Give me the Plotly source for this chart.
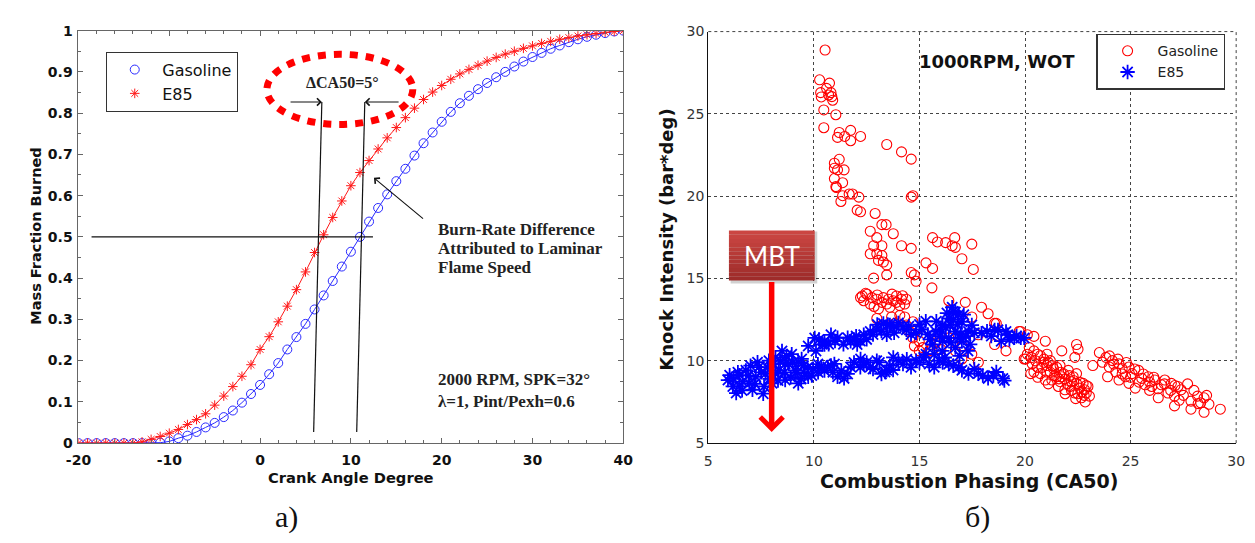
import plotly.graph_objects as go

# ---------------- panel a): mass fraction burned ----------------
crank_deg = list(range(-20, 41))
mfb_gasoline = [0, 0, 0, 0, 0, 0, 0, 0, 0,
                0.001, 0.004, 0.012, 0.018, 0.027, 0.038, 0.049, 0.063, 0.079, 0.098, 0.119,
                0.141, 0.167, 0.194, 0.227, 0.257, 0.289, 0.324, 0.358, 0.393, 0.428,
                0.464, 0.500, 0.537, 0.570, 0.603, 0.635, 0.665, 0.697, 0.727, 0.753,
                0.779, 0.803, 0.824, 0.842, 0.858, 0.873, 0.887, 0.900, 0.913, 0.925,
                0.936, 0.946, 0.956, 0.964, 0.972, 0.979, 0.985, 0.990, 0.994, 0.998, 1.000]
mfb_e85 = [0, 0, 0, 0, 0, 0, 0,
           0.003, 0.009, 0.016, 0.024, 0.033, 0.045, 0.057, 0.071, 0.092, 0.114, 0.137, 0.162, 0.190,
           0.227, 0.258, 0.294, 0.332, 0.372, 0.415, 0.462, 0.505, 0.547, 0.587,
           0.624, 0.656, 0.685, 0.713, 0.740, 0.765, 0.789, 0.812, 0.833, 0.851,
           0.867, 0.882, 0.895, 0.906, 0.916, 0.926, 0.935, 0.943, 0.950, 0.957,
           0.963, 0.969, 0.974, 0.979, 0.983, 0.987, 0.990, 0.993, 0.996, 0.998, 1.000]
ca50_gasoline = 11.0
ca50_e85 = 6.8
crank_ticks = [-20, -10, 0, 10, 20, 30, 40]
mfb_ticks = [0, 0.1, 0.2, 0.3, 0.4, 0.5, 0.6, 0.7, 0.8, 0.9, 1]
mfb_tick_labels = ["0", "0.1", "0.2", "0.3", "0.4", "0.5", "0.6", "0.7", "0.8", "0.9", "1"]

# ---------------- panel б): knock intensity vs CA50 ----------------
gasoline_points = [
    (10.53, 28.88), (10.27, 27.07), (10.74, 26.87), (10.32, 26.29), (10.81, 26.29), (10.35, 26.03),
    (10.89, 25.83), (10.47, 25.24), (11.04, 24.95), (10.47, 24.16), (10.60, 26.55), (10.85, 26.05),
    (10.70, 26.15),
    (11.12, 23.57), (11.20, 23.87), (11.74, 24.00), (11.46, 23.63), (11.74, 23.37), (12.21, 23.63),
    (13.45, 23.14), (14.15, 22.69), (14.61, 22.25),
    (10.97, 22.00), (11.20, 22.24), (10.97, 21.70), (11.43, 21.60), (11.12, 21.60), (10.97, 21.07),
    (11.36, 20.82), (11.07, 20.53), (11.04, 20.58), (11.36, 20.03), (11.67, 20.13), (12.13, 19.94),
    (11.28, 19.68), (12.05, 19.15), (12.21, 19.05), (11.83, 20.13), (14.69, 20.03), (14.61, 19.94),
    (12.90, 18.95), (13.22, 18.27), (13.42, 18.27), (12.67, 17.87), (13.76, 17.72), (12.98, 17.48),
    (12.83, 16.99), (13.22, 16.99), (14.15, 16.99), (14.61, 16.83), (12.67, 16.50), (12.98, 16.50),
    (13.22, 16.40), (13.06, 16.10), (13.29, 16.00), (13.45, 15.81), (12.83, 15.02), (13.45, 15.22),
    (14.61, 15.36), (14.76, 15.22), (14.84, 14.83), (15.31, 15.95), (15.62, 15.61), (15.59, 14.43),
    (15.62, 17.48), (15.85, 17.22), (16.24, 17.18), (16.67, 17.48), (16.55, 16.99), (16.70, 16.89),
    (17.01, 16.20), (17.48, 17.09), (17.55, 15.55),
    (12.29, 13.94), (12.52, 14.04), (12.75, 13.84), (12.98, 13.74), (13.22, 13.55), (12.36, 13.65),
    (12.67, 13.45), (13.29, 13.84), (13.53, 13.74), (13.76, 13.65), (13.91, 13.94), (14.15, 13.74),
    (14.30, 13.45), (14.07, 13.35), (13.60, 13.25), (13.06, 13.16), (14.38, 13.74), (12.21, 13.84),
    (13.45, 13.45), (13.91, 13.55), (12.45, 14.10), (13.00, 14.00), (13.70, 14.05), (12.85, 13.30),
    (14.20, 13.95),
    (12.98, 12.57), (13.22, 12.17), (13.68, 12.66), (14.07, 12.76), (14.30, 12.66), (13.84, 12.27),
    (14.38, 12.17), (14.69, 12.37), (14.84, 11.88), (14.53, 11.78),
    (14.69, 11.39), (14.99, 11.19), (14.76, 10.90), (15.15, 10.80), (15.54, 10.99), (15.46, 10.60),
    (14.99, 10.60), (15.77, 11.09), (16.01, 10.70),
    (16.39, 13.65), (17.17, 13.55), (17.94, 13.25), (18.25, 12.86), (18.56, 12.27), (17.48, 12.66),
    (17.79, 11.58), (18.56, 10.99), (19.10, 10.60), (16.70, 10.60), (17.01, 10.11), (17.79, 9.91),
    (17.48, 10.40), (16.39, 11.39), (17.01, 10.90), (18.64, 12.27), (19.80, 11.78), (20.11, 11.58),
    (19.96, 10.11), (20.27, 9.22), (19.72, 11.78), (20.42, 11.48), (20.96, 11.19), (21.74, 10.60),
    (22.44, 10.99), (22.51, 10.70), (22.36, 10.21), (23.21, 9.71), (20.03, 10.11),
    (20.11, 10.40), (20.42, 10.60), (20.73, 10.31), (21.04, 10.40), (20.34, 9.81), (20.58, 9.62),
    (20.89, 9.91), (21.20, 10.01), (21.35, 9.52), (21.66, 9.71), (20.73, 9.22), (21.04, 9.32),
    (21.50, 9.03), (21.82, 9.22), (22.05, 9.42), (22.28, 9.03), (22.44, 8.63), (22.13, 8.44),
    (22.59, 8.34), (22.75, 8.63), (22.90, 8.04), (22.67, 7.75), (22.98, 8.44), (21.66, 8.73),
    (21.27, 8.83), (21.89, 8.24), (22.36, 8.04), (20.42, 9.32), (20.96, 8.83), (21.58, 8.44),
    (22.20, 8.73), (22.82, 8.24), (23.05, 7.85), (21.04, 9.71), (21.74, 9.03), (22.44, 9.22),
    (20.20, 10.80), (20.30, 10.20), (20.50, 10.00), (20.60, 10.40), (20.80, 9.60), (20.90, 10.10),
    (21.10, 9.90), (21.20, 9.30), (21.30, 9.70), (21.40, 9.10), (21.50, 9.60), (21.60, 8.90),
    (21.70, 9.30), (21.90, 8.90), (22.00, 8.60), (22.10, 9.10), (22.20, 8.20), (22.30, 8.80),
    (22.50, 8.00), (22.60, 8.70), (22.70, 8.10), (22.80, 7.90), (22.90, 8.50), (21.10, 8.60),
    (20.60, 9.00), (21.90, 8.00), (22.40, 7.70), (22.85, 7.50),
    (23.52, 10.50), (23.83, 10.21), (24.14, 10.01), (24.45, 9.81), (23.67, 9.91), (23.99, 9.62),
    (24.30, 9.32), (24.60, 9.52), (24.92, 9.62), (25.07, 9.22), (24.76, 9.03), (25.38, 9.42),
    (25.53, 8.93), (25.84, 9.03), (26.15, 8.83), (25.22, 8.34), (25.69, 8.54), (26.00, 8.44),
    (26.46, 8.54), (26.62, 8.83), (26.93, 8.63), (27.24, 8.44), (27.39, 8.24), (26.77, 8.04),
    (27.08, 7.85), (26.31, 7.75), (27.08, 7.26), (27.86, 7.55), (28.17, 7.85), (28.48, 7.75),
    (28.32, 7.45), (28.71, 7.36), (27.86, 7.06), (28.48, 6.87), (29.25, 7.06), (24.45, 8.83),
    (24.92, 8.63), (23.91, 9.03),
    (24.00, 10.30), (24.20, 9.80), (24.40, 10.10), (24.60, 9.20), (24.80, 9.90), (25.00, 9.00),
    (25.20, 9.50), (25.40, 8.70), (25.60, 9.20), (25.90, 8.70), (26.10, 9.00), (26.30, 8.30),
    (26.60, 8.60), (26.90, 8.20), (27.10, 8.50), (27.50, 7.90), (27.70, 8.60), (28.00, 8.20),
    (28.20, 7.40), (28.60, 7.90), (27.30, 7.60), (25.90, 8.20),
]
e85_points = [
    (5.93, 8.83), (6.16, 8.44), (6.32, 8.04), (6.47, 9.13), (6.78, 9.42), (6.94, 8.63), (7.25, 9.03),
    (7.40, 9.62), (7.64, 8.44), (7.87, 10.01), (8.18, 9.22), (8.49, 10.60), (8.64, 8.83), (8.80, 9.81),
    (9.11, 9.42), (9.26, 8.63), (9.42, 10.11), (9.73, 9.03), (9.96, 9.52), (9.73, 10.90), (10.04, 11.39),
    (10.35, 9.62), (10.50, 10.99), (10.81, 11.58), (10.97, 9.81), (6.01, 9.13), (6.63, 8.73),
    (7.09, 8.24), (8.02, 8.63), (8.33, 9.42), (8.95, 10.40), (7.71, 9.22), (7.33, 9.91), (6.47, 8.44),
    (8.64, 9.81), (9.26, 9.91), (9.57, 9.23), (8.18, 10.21),
    (6.20, 8.90), (6.40, 9.30), (6.60, 8.20), (6.90, 9.10), (7.00, 9.70), (7.20, 8.60), (7.50, 9.30),
    (7.60, 8.00), (7.80, 9.60), (7.90, 8.90), (8.10, 9.80), (8.30, 8.80), (8.40, 10.00), (8.60, 9.30),
    (8.70, 10.30), (8.90, 9.00), (9.00, 9.90), (9.20, 9.30), (9.40, 8.90), (9.50, 9.70), (9.70, 9.60),
    (9.90, 9.10), (10.10, 10.60), (10.20, 9.30), (10.40, 11.00),
    (10.24, 11.30), (11.12, 11.40), (10.81, 9.72), (11.43, 8.93), (12.36, 9.80), (12.67, 9.62),
    (13.37, 9.32), (13.75, 9.44), (11.90, 11.29), (12.67, 11.78), (12.98, 11.88), (13.60, 12.17),
    (14.22, 12.07),
    (10.19, 9.80), (10.66, 9.62), (11.12, 9.03), (11.74, 9.62), (12.21, 10.11), (12.98, 10.01),
    (13.45, 9.42), (13.76, 10.21), (14.22, 9.80), (14.84, 10.01), (15.46, 9.80), (15.93, 10.01),
    (16.39, 9.80), (16.86, 9.62), (17.32, 9.22), (17.79, 9.22), (18.25, 8.93), (18.95, 8.93),
    (17.01, 9.42),
    (10.50, 9.40), (10.90, 9.30), (11.30, 9.40), (11.60, 9.20), (11.90, 9.90), (12.20, 9.60),
    (12.50, 9.90), (12.80, 9.50), (13.10, 9.90), (13.20, 9.20), (13.60, 9.70), (14.00, 10.00),
    (14.40, 10.10), (14.60, 9.60), (15.00, 9.90), (15.20, 10.20), (15.70, 9.60), (16.10, 9.90),
    (16.60, 9.70), (17.60, 9.50), (18.00, 9.10), (18.50, 9.10),
    (10.50, 11.19), (11.74, 11.19), (12.36, 11.58), (13.29, 12.27), (13.91, 12.07), (14.38, 11.88),
    (14.84, 11.68), (12.05, 10.99), (13.45, 11.58), (15.00, 12.20), (15.30, 12.40),
    (10.70, 11.00), (11.00, 11.20), (11.40, 11.00), (11.60, 11.40), (12.00, 11.50), (12.20, 11.20),
    (12.50, 11.30), (12.80, 11.60), (13.00, 12.20), (13.20, 11.80), (13.50, 12.20), (13.80, 11.70),
    (14.00, 12.30), (14.50, 12.10), (14.60, 11.60), (15.10, 11.90),
    (16.55, 13.25), (16.70, 12.96), (16.39, 12.57), (16.08, 12.17), (17.01, 12.37), (15.77, 11.78),
    (16.70, 11.78), (17.32, 11.78), (16.39, 11.39), (17.01, 11.19), (15.62, 10.99), (16.08, 10.60),
    (15.31, 10.40), (16.70, 10.80), (17.48, 12.17), (16.60, 12.50), (16.85, 12.80), (15.95, 11.50),
    (16.25, 12.00), (16.95, 11.60),
    (15.50, 11.30), (15.80, 12.40), (16.10, 11.20), (16.30, 12.90), (16.45, 12.20), (16.50, 11.10),
    (16.60, 13.00), (16.80, 12.20), (16.90, 11.40), (17.10, 12.80), (17.20, 11.50), (17.40, 11.00),
    (15.70, 10.40), (16.20, 10.20), (16.90, 10.30), (17.30, 10.60), (15.40, 11.60), (16.00, 11.90),
    (17.60, 11.70),
    (17.94, 11.68), (18.56, 11.88), (19.18, 11.58), (19.80, 11.39), (18.72, 11.88), (19.10, 11.78),
    (19.49, 11.39), (19.96, 11.39), (18.87, 11.19), (19.26, 11.29), (19.02, 8.80), (18.64, 9.32),
    (18.20, 11.80), (18.40, 11.50), (19.60, 11.50),
]
mbt_ca50 = 8.0

gas_x, gas_y = zip(*gasoline_points)
e85_x, e85_y = zip(*e85_points)

SANS = "DejaVu Sans"
SERIF = "Liberation Serif"
BLUE = "#2b2bff"
RED = "#ff1a1a"

fig = go.Figure()

# --- panel a) traces ---
fig.add_trace(go.Scatter(
    x=crank_deg, y=mfb_gasoline, mode="lines+markers", showlegend=False,
    line=dict(color=BLUE, width=1),
    marker=dict(symbol="circle-open", size=9, color=BLUE, line=dict(width=1)),
    xaxis="x", yaxis="y"))
fig.add_trace(go.Scatter(
    x=crank_deg, y=mfb_e85, mode="lines+markers", showlegend=False,
    line=dict(color=RED, width=1),
    marker=dict(symbol="asterisk-open", size=8, color=RED, line=dict(width=1, color=RED)),
    xaxis="x", yaxis="y"))
# legend entries showing the marker only
fig.add_trace(go.Scatter(
    x=[None], y=[None], mode="markers", name="Gasoline", legend="legend",
    marker=dict(symbol="circle-open", size=9, color=BLUE, line=dict(width=1)),
    xaxis="x", yaxis="y"))
fig.add_trace(go.Scatter(
    x=[None], y=[None], mode="markers", name="E85", legend="legend",
    marker=dict(symbol="asterisk-open", size=8, color=RED, line=dict(width=1, color=RED)),
    xaxis="x", yaxis="y"))

# --- panel б) traces ---
fig.add_trace(go.Scatter(
    x=gas_x, y=gas_y, mode="markers", name="Gasoline", legend="legend2",
    marker=dict(symbol="circle-open", size=10, color="#ff0000", line=dict(width=1.1)),
    xaxis="x2", yaxis="y2"))
fig.add_trace(go.Scatter(
    x=e85_x, y=e85_y, mode="markers", name="E85", legend="legend2",
    marker=dict(symbol="asterisk-open", size=12, color="#0000ff",
                line=dict(width=1.8, color="#0000ff")),
    xaxis="x2", yaxis="y2"))

W, H = 1255, 543

shapes = []
annotations = []


def note(**kw):
    kw.setdefault("xanchor", "center")
    kw.setdefault("yanchor", "middle")
    kw.setdefault("showarrow", False)
    annotations.append(kw)


# guide lines in panel a)
line_style = dict(color="#111", width=1.2)
shapes.append(dict(type="line", xref="x", yref="y", x0=-18.56, x1=12.43, y0=0.5, y1=0.5,
                   line=line_style))
shapes.append(dict(type="line", xref="x", yref="y", x0=ca50_e85, x1=ca50_e85 - 0.9,
                   y0=0.827, y1=0.027, line=line_style))
shapes.append(dict(type="line", xref="x", yref="y", x0=ca50_gasoline + 0.53,
                   x1=ca50_gasoline - 0.36, y0=0.827, y1=0.027, line=line_style))
# dotted red ellipse around the CA50 difference
shapes.append(dict(type="circle", xref="x", yref="y", x0=0.75, x1=16.82, y0=0.7725, y1=0.9426,
                   line=dict(color="#ff0000", width=7, dash="8px,8px")))

# arrows pointing at the CA50 guide lines
arrow_style = dict(text="", showarrow=True, arrowhead=4, arrowsize=1.3, arrowwidth=1.1,
                   arrowcolor="#111", xref="x", yref="y", axref="x", ayref="y")
annotations.append(dict(x=ca50_e85, y=0.827, ax=3.19, ay=0.827, **arrow_style))
annotations.append(dict(x=ca50_gasoline + 0.53, y=0.827, ax=15.42, ay=0.827, **arrow_style))
annotations.append(dict(x=12.54, y=0.643, ax=18.11, ay=0.541, **arrow_style))
note(xref="x", yref="y", x=9.13, y=0.874, text="ΔCA50=5°",
     font=dict(family=SERIF, size=16, color="#222", weight="bold"))

serif_note = dict(family=SERIF, size=17, color="#222", weight="bold")
for txt, yv in [("Burn-Rate Difference", 0.519), ("Attributed to Laminar", 0.472),
                ("Flame Speed", 0.425), ("2000 RPM, SPK=32°", 0.153),
                ("λ=1, Pint/Pexh=0.6", 0.102)]:
    note(xref="x", yref="y", x=19.37, y=yv, text=txt, xanchor="left", font=serif_note)

# axis titles panel a)
note(xref="paper", yref="paper", x=344 / W, y=1 - 484 / H, text="Crank Angle Degree",
     font=dict(family=SANS, size=14.7, color="#111", weight="bold"))
note(xref="paper", yref="paper", x=23 / W, y=1 - 235 / H, text="Mass Fraction Burned",
     textangle=-90, font=dict(family=SANS, size=14.5, color="#111", weight="bold"))

# panel б) titles
note(xref="paper", yref="paper", x=974 / W, y=1 - 487 / H, text="Combustion Phasing (CA50)",
     font=dict(family=SANS, size=19, color="#111", weight="bold"))
note(xref="paper", yref="paper", x=666 / W, y=1 - 239 / H, text="Knock Intensity (bar*deg)",
     textangle=-90, font=dict(family=SANS, size=18, color="#111", weight="bold"))
note(xref="paper", yref="paper", x=1002 / W, y=1 - 55 / H, text="1000RPM, WOT",
     font=dict(family=SANS, size=18, color="#111", weight="bold"))

# dotted frame edges of panel б)
edge = dict(color="#444", width=1, dash="dot")
shapes.append(dict(type="line", xref="x2 domain", yref="y2 domain", x0=0, x1=1, y0=1, y1=1,
                   line=edge))
shapes.append(dict(type="line", xref="x2 domain", yref="y2 domain", x0=1, x1=1, y0=0, y1=1,
                   line=edge))

# MBT marker box with a vertical gradient and a soft shadow
box_x0, box_x1, box_y0, box_y1 = 5.976, 10.04, 14.88, 17.91
shapes.append(dict(type="rect", xref="x2", yref="y2", x0=box_x0 + 0.08, x1=box_x1 + 0.12,
                   y0=box_y0 - 0.18, y1=box_y1 - 0.05, line=dict(width=0),
                   fillcolor="rgba(0,0,0,0.18)"))
n_bands = 12
top_rgb, bot_rgb = (203, 70, 66), (158, 44, 42)
for i in range(n_bands):
    t = i / (n_bands - 1)
    rgb = tuple(round(top_rgb[k] + (bot_rgb[k] - top_rgb[k]) * t) for k in range(3))
    ya = box_y1 - (box_y1 - box_y0) * i / n_bands
    yb = box_y1 - (box_y1 - box_y0) * (i + 1) / n_bands
    shapes.append(dict(type="rect", xref="x2", yref="y2", x0=box_x0, x1=box_x1,
                       y0=yb, y1=ya, line=dict(width=0),
                       fillcolor="rgb(%d,%d,%d)" % rgb))
note(xref="x2", yref="y2", x=(box_x0 + box_x1) / 2, y=(box_y0 + box_y1) / 2, text="MBT",
     font=dict(family="Lato", size=26, color="white"))
annotations.append(dict(xref="x2", yref="y2", axref="x2", ayref="y2", x=mbt_ca50, y=5.68,
                        ax=mbt_ca50, ay=box_y0, text="", showarrow=True, arrowhead=4,
                        arrowsize=0.8, arrowwidth=5.5, arrowcolor="#ff0000"))

# panel captions
note(xref="paper", yref="paper", x=279 / W, y=1 - 524 / H, text="a)",
     font=dict(family=SERIF, size=30, color="#111"))
note(xref="paper", yref="paper", x=983 / W, y=1 - 524 / H, text="б)",
     font=dict(family=SERIF, size=30, color="#111"))

axis_a = dict(showline=True, linecolor="#666", linewidth=1, mirror="ticks", ticks="inside",
              ticklen=5, tickcolor="#666", showgrid=False, zeroline=False,
              tickfont=dict(family=SANS, size=14, color="#111", weight="bold"))
axis_b = dict(showline=True, linecolor="#111", linewidth=1.2, mirror=False, ticks="",
              showgrid=True, gridcolor="#444", gridwidth=1, griddash="dot", zeroline=False,
              tickfont=dict(family=SANS, size=14, color="#333"))

fig.update_layout(
    width=W, height=H, autosize=False,
    margin=dict(l=0, r=0, t=0, b=0),
    paper_bgcolor="white", plot_bgcolor="white",
    xaxis=dict(domain=[66.7 / W, 621.7 / W], range=[-20, 40], anchor="y",
               tickvals=crank_ticks, ticktext=["<b>%d</b>" % v for v in crank_ticks],
               ticklabelstandoff=4,
               minor=dict(ticks="inside", dtick=2, ticklen=3, tickcolor="#666"), **axis_a),
    yaxis=dict(domain=[1 - 448.3 / H, 1 - 23.3 / H], range=[0, 1], anchor="x",
               tickvals=mfb_ticks, ticktext=["<b>%s</b>" % s for s in mfb_tick_labels],
               ticklabelstandoff=2,
               minor=dict(ticks="inside", dtick=0.05, ticklen=3, tickcolor="#666"), **axis_a),
    xaxis2=dict(domain=[708.3 / W, 1246 / W], range=[5, 30], dtick=5, anchor="y2",
                ticklabelstandoff=5, **axis_b),
    yaxis2=dict(domain=[1 - 448.3 / H, 1 - 24.3 / H], range=[5, 30], dtick=5, anchor="x2",
                **axis_b),
    legend=dict(x=95 / W, y=1 - 45 / H, xanchor="left", yanchor="top",
                bordercolor="#333", borderwidth=1, bgcolor="white", itemwidth=45,
                font=dict(family=SANS, size=16, color="#111"), tracegroupgap=0),
    legend2=dict(x=1103.3 / W, y=1 - 26.5 / H, xanchor="left", yanchor="top",
                 bordercolor="#333", borderwidth=1.5, bgcolor="white", itemwidth=50,
                 font=dict(family=SANS, size=14, color="#222"), tracegroupgap=0),
    shapes=shapes, annotations=annotations,
)

fig.write_html("out.html")
